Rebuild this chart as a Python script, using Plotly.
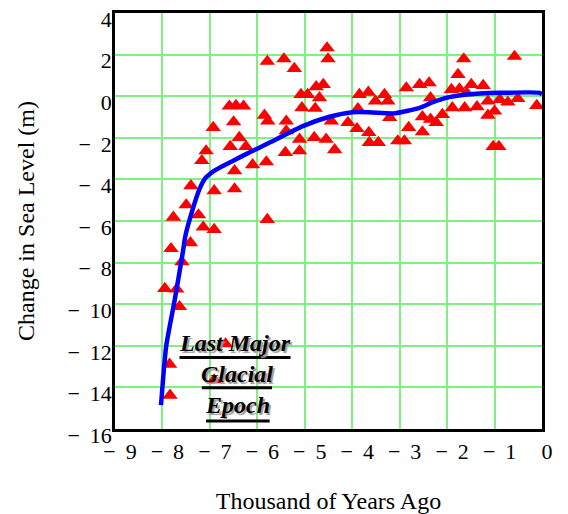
import plotly.graph_objects as go

# Observed sea-level change points (thousand years ago, metres)
obs_x = [-7.95, -7.70, -7.64, -7.85, -7.84, -6.91, -6.67, -7.82, -7.41, -7.59,
         -7.50, -7.77, -7.24, -7.14, -6.91, -5.79, -7.40, -6.91, -6.48, -6.48,
         -6.10, -5.81, -7.08, -7.17, -6.57, -6.24, -6.38, -6.93, -6.50, -6.59,
         -6.45, -6.29, -5.85, -5.78, -5.79,
         -5.44, -5.22, -4.53, -4.51, -5.08, -4.94, -4.76, -4.61, -4.69, -5.06,
         -4.78, -5.39, -5.39, -5.11, -4.80, -4.55, -4.37, -5.11, -5.41, -4.44,
         -4.09, -3.85, -3.66, -3.51, -3.32, -3.25, -3.88, -3.90, -3.65, -3.64,
         -3.45, -3.21, -3.04, -2.90, -2.86,
         -1.65, -0.58, -1.77, -2.58, -2.38, -2.35, -1.91, -1.74, -1.49, -1.24,
         -1.59, -1.89, -1.63, -1.37, -1.14, -0.89, -0.72, -0.51, -0.11, -1.14,
         -1.00, -2.10, -2.52, -2.35, -2.23, -2.81, -2.52, -1.03, -0.91]
obs_y = [-9.25, -9.28, -10.12, -12.89, -14.38, -13.64, -11.91, -7.33, -7.05, -7.97,
         -5.23, -5.82, -5.71, -6.30, -6.41, -5.93, -4.31, -4.55, -4.46, -3.59,
         -3.30, -3.16, -2.63, -3.10, -2.42, -2.42, -1.99, -1.51, -1.24, -0.48,
         -0.45, -0.48, -0.92, -1.20, 1.67,
         1.79, 1.33, 2.32, 1.79, 0.08, 0.08, 0.45, 0.56, -0.08, -0.56,
         -0.59, -1.20, -1.67, -2.07, -1.99, -2.07, -2.58, -2.63, -2.71, -1.20,
         -1.27, 0.08, 0.19, -0.24, 0.08, -0.24, -0.60, -1.56, -1.75, -2.23,
         -2.23, -1.03, -2.15, -2.15, 0.40,
         1.79, 1.91, 1.04, 0.56, 0.64, -0.08, 0.32, 0.35, 0.56, 0.51,
         0.16, -0.56, -0.56, -0.51, -0.24, -0.16, -0.29, -0.12, -0.45, -0.92,
         -0.72, -0.88, -0.99, -1.11, -1.27, -1.51, -1.72, -2.42, -2.42]

# Fitted trend curve
fit_x = [-8.03, -7.92, -7.75, -7.57, -7.52, -7.36, -7.22, -7.10, -6.95, -6.75,
         -6.52, -6.17, -5.74, -5.04, -4.48, -3.99, -3.64, -3.14, -2.79, -2.58,
         -2.30, -2.02, -1.59, -0.89, -0.05, 0.0]
fit_y = [-14.85, -12.0, -9.9, -7.5, -6.75, -5.42, -4.47, -3.95, -3.65, -3.38,
         -3.11, -2.71, -2.23, -1.44, -0.99, -0.77, -0.77, -0.83, -0.68, -0.56,
         -0.29, -0.08, 0.08, 0.16, 0.16, 0.08]

x_ticks = [-9, -8, -7, -6, -5, -4, -3, -2, -1, 0]
y_ticks = [4, 2, 0, -2, -4, -6, -8, -10, -12, -14, -16]
label_lines = ["Last Major", "Glacial", "Epoch"]


def fmt(v):
    # Mathcad-style negative labels: minus sign, gap, magnitude
    return ("\u2212 \u2009" + str(abs(v))) if v < 0 else str(v)


x_tick_text = [fmt(v) for v in x_ticks]
y_tick_text = [fmt(v) for v in y_ticks]

FONT = "Liberation Serif, Times New Roman, serif"

fig = go.Figure()
fig.add_trace(go.Scatter(
    x=obs_x, y=obs_y, mode="markers",
    marker=dict(symbol="triangle-up", size=13.5, color="#ff0000",
                line=dict(width=0)),
    showlegend=False, hoverinfo="skip"))
fig.add_trace(go.Scatter(
    x=fit_x, y=fit_y, mode="lines",
    line=dict(color="#0000ff", width=4.5, shape="spline", smoothing=0.6),
    showlegend=False, hoverinfo="skip"))

# annotation block: (center x, text y, underline y, underline half-width)
label_layout = [(-6.47, -11.88, -12.56, 1.17),
                (-6.43, -13.35, -14.02, 0.74),
                (-6.41, -14.85, -15.62, 0.67)]
for txt, (lx, ly, uy, hw) in zip(label_lines, label_layout):
    fig.add_annotation(
        x=lx, y=ly, xref="x", yref="y", text=txt, showarrow=False,
        font=dict(family=FONT, size=24, color="black", weight="bold",
                  style="italic", shadow="2px 2px 1px #9a9a9a"))
    fig.add_shape(type="line", xref="x", yref="y",
                  x0=lx - hw, x1=lx + hw, y0=uy, y1=uy,
                  line=dict(color="black", width=3), layer="above")

axis_common = dict(
    showgrid=True, gridcolor="#80f080", gridwidth=2,
    zeroline=False, showline=True, linecolor="black", linewidth=2.5,
    mirror=True, ticks="", ticklen=0, ticklabeloverflow="allow",
    tickfont=dict(family=FONT, size=22, color="black"),
)

fig.update_xaxes(range=[-9, 0], tickvals=x_ticks, ticktext=x_tick_text,
                 ticklabelshift=5, ticklabelstandoff=1,
                 title=dict(text="Thousand of Years Ago", standoff=44,
                            font=dict(family=FONT, size=24, color="black")),
                 **axis_common)
fig.update_yaxes(range=[-16, 4], tickvals=y_ticks, ticktext=y_tick_text,
                 ticklabelshift=6, ticklabelstandoff=-4,
                 title=dict(text="Change in Sea Level (m)", standoff=27,
                            font=dict(family=FONT, size=24, color="black")),
                 **axis_common)

fig.update_layout(
    width=568, height=514,
    margin=dict(l=115, r=26, t=13, b=85, autoexpand=False),
    paper_bgcolor="white", plot_bgcolor="white",
    font=dict(family=FONT),
)

# remove the page's default body margin so the figure fills the window
fig.write_html("out.html",
               config={"displayModeBar": False},
               post_script="document.body.style.margin='0';")
